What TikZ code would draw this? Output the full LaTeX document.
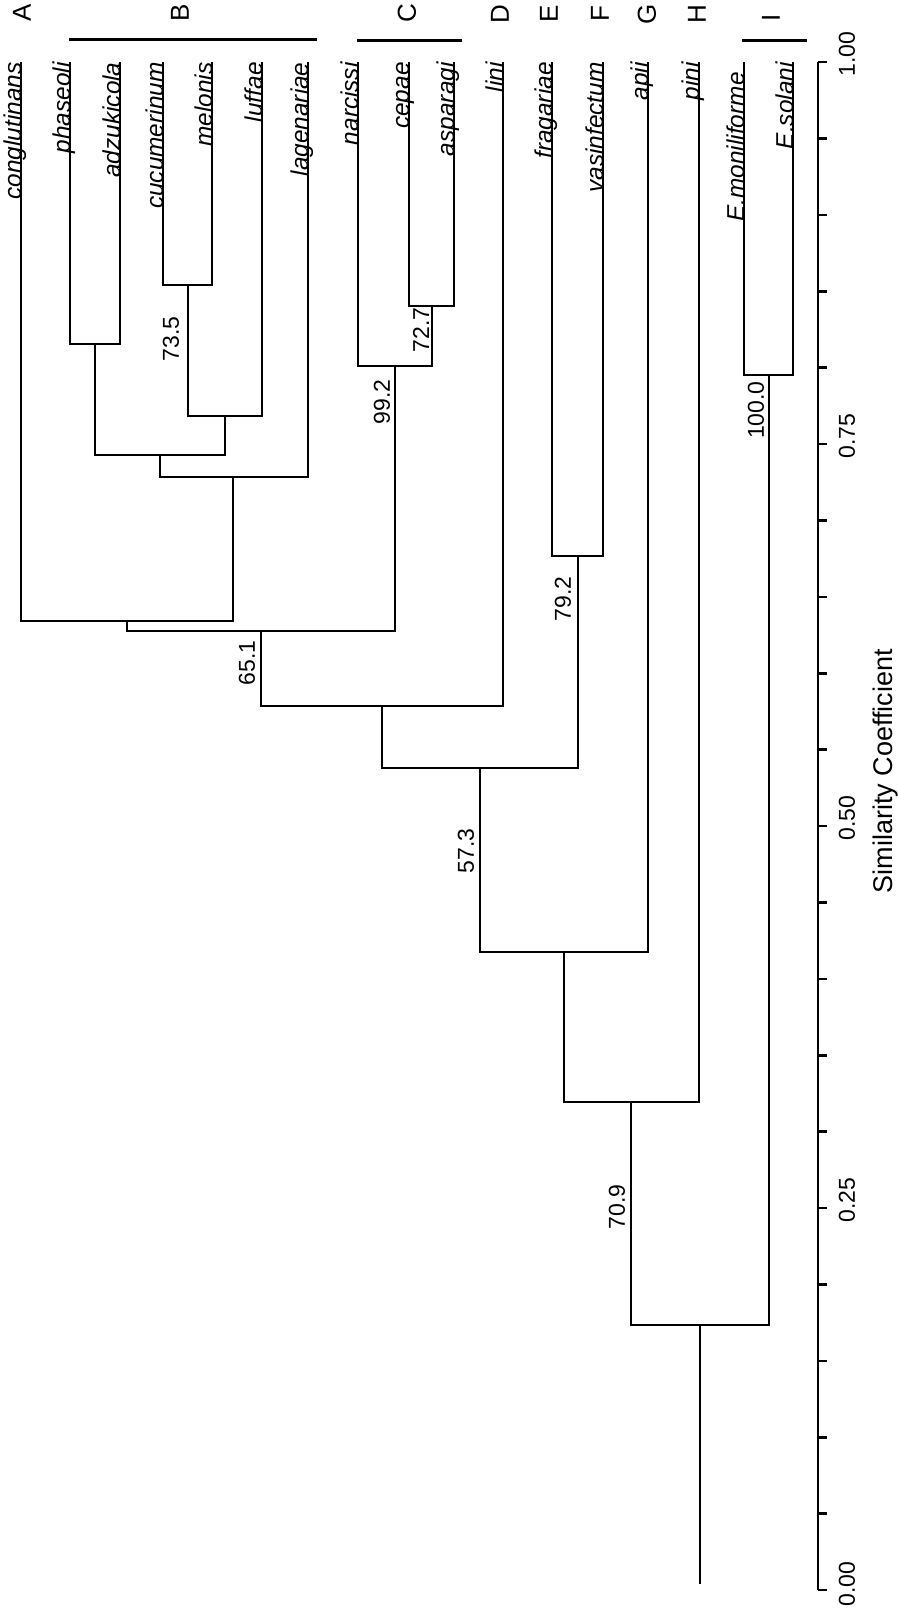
\documentclass[tikz,border=0pt]{standalone}
\usepackage{fontspec}
\setmainfont{Liberation Sans}
\tikzset{
  branch/.style={line width=1pt},
  leaflabel/.style={rotate=90,anchor=base east,inner sep=0pt,font=\fontsize{12.2}{14}\selectfont\itshape},
  simval/.style={rotate=90,inner sep=0pt,font=\fontsize{11.5}{13}\selectfont},
  grouplabel/.style={rotate=90,inner sep=0pt,font=\fontsize{13}{15}\selectfont},
  groupbar/.style={line width=1.5pt},
  axisline/.style={line width=1.3pt},
  ticklabel/.style={rotate=90,inner sep=0pt,font=\fontsize{11.5}{13}\selectfont}
}
\begin{document}
\begin{tikzpicture}[x=0.5pt,y=-0.5pt]
\useasboundingbox (0,0) rectangle (898,1614);

\coordinate (conglutinans) at (21,62);
\coordinate (phaseoli) at (70,62);
\coordinate (adzukicola) at (120,62);
\coordinate (cucumerinum) at (163,62);
\coordinate (melonis) at (212,62);
\coordinate (luffae) at (262,62);
\coordinate (lagenariae) at (308,62);
\coordinate (narcissi) at (358,62);
\coordinate (cepae) at (409,62);
\coordinate (asparagi) at (454,62);
\coordinate (lini) at (503,62);
\coordinate (fragariae) at (552,62);
\coordinate (vasinfectum) at (603,62);
\coordinate (apii) at (648,62);
\coordinate (pini) at (699,62);
\coordinate (moniliforme) at (744,62);
\coordinate (solani) at (793,62);

\node[leaflabel] (tconglutinans) at (conglutinans) {conglutinans};
\node[leaflabel] (tphaseoli) at (phaseoli) {phaseoli};
\node[leaflabel] (tadzukicola) at (adzukicola) {adzukicola};
\node[leaflabel] (tcucumerinum) at (cucumerinum) {cucumerinum};
\node[leaflabel] (tmelonis) at (melonis) {melonis};
\node[leaflabel] (tluffae) at (luffae) {luffae};
\node[leaflabel] (tlagenariae) at (lagenariae) {lagenariae};
\node[leaflabel] (tnarcissi) at (narcissi) {narcissi};
\node[leaflabel] (tcepae) at (cepae) {cepae};
\node[leaflabel] (tasparagi) at (asparagi) {asparagi};
\node[leaflabel] (tlini) at (lini) {lini};
\node[leaflabel] (tfragariae) at (fragariae) {fragariae};
\node[leaflabel] (tvasinfectum) at (vasinfectum) {vasinfectum};
\node[leaflabel] (tapii) at (apii) {apii};
\node[leaflabel] (tpini) at (pini) {pini};
\node[leaflabel] (tmoniliforme) at ([yshift=-5]moniliforme) {E.moniliforme};
\node[leaflabel] (tsolani) at (solani) {E.solani};

\coordinate (cucmel) at (188,285);
\coordinate (phasadz) at (95,344);
\coordinate (cucluf) at (225,416);
\coordinate (phascuc) at (160,455);
\coordinate (grpB) at (233,477);
\coordinate (grpAB) at (127,621);
\coordinate (cepasp) at (432,306);
\coordinate (grpC) at (395,366);
\coordinate (grpABC) at (261,631);
\coordinate (grpABCD) at (382,706);
\coordinate (grpEF) at (578,556);
\coordinate (grpAF) at (480,768);
\coordinate (grpAG) at (564,952);
\coordinate (grpAH) at (631,1102);
\coordinate (grpI) at (769,375);
\coordinate (grpAI) at (700,1325);
\coordinate (rootend) at (700,1584);

\draw[branch] (cucumerinum) |- (cucmel) -| (melonis);
\draw[branch] (phaseoli) |- (phasadz) -| (adzukicola);
\draw[branch] (cucmel) |- (cucluf) -| (luffae);
\draw[branch] (phasadz) |- (phascuc) -| (cucluf);
\draw[branch] (phascuc) |- (grpB) -| (lagenariae);
\draw[branch] (conglutinans) |- (grpAB) -| (grpB);
\draw[branch] (cepae) |- (cepasp) -| (asparagi);
\draw[branch] (narcissi) |- (grpC) -| (cepasp);
\draw[branch] (grpAB) |- (grpABC) -| (grpC);
\draw[branch] (grpABC) |- (grpABCD) -| (lini);
\draw[branch] (fragariae) |- (grpEF) -| (vasinfectum);
\draw[branch] (grpABCD) |- (grpAF) -| (grpEF);
\draw[branch] (grpAF) |- (grpAG) -| (apii);
\draw[branch] (grpAG) |- (grpAH) -| (pini);
\draw[branch] (moniliforme) |- (grpI) -| (solani);
\draw[branch] (grpAH) |- (grpAI) -| (grpI);
\draw[branch] (grpAI) -- (rootend);

\node[simval] (v735) at (171,339) {73.5};
\node[simval] (v727) at (421,330) {72.7};
\node[simval] (v992) at (382,402) {99.2};
\node[simval] (v651) at (247,663) {65.1};
\node[simval] (v792) at (563,599) {79.2};
\node[simval] (v573) at (466,851) {57.3};
\node[simval] (v709) at (617,1207) {70.9};
\node[simval] (v1000) at (756,410) {100.0};

\node[grouplabel] (gA) at (22,13) {A};
\node[grouplabel] (gB) at (180,13) {B};
\node[grouplabel] (gC) at (407,13) {C};
\node[grouplabel] (gD) at (500,14) {D};
\node[grouplabel] (gE) at (549,14) {E};
\node[grouplabel] (gF) at (600,14) {F};
\node[grouplabel] (gG) at (647,14) {G};
\node[grouplabel] (gH) at (697,14) {H};
\node[grouplabel] (gI) at (771,18) {I};

\coordinate (barBl) at (69,39);
\coordinate (barBr) at (317,39);
\coordinate (barCl) at (357,40);
\coordinate (barCr) at (462,40);
\coordinate (barIl) at (742,40);
\coordinate (barIr) at (807,40);
\draw[groupbar] (barBl) -- (barBr);
\draw[groupbar] (barCl) -- (barCr);
\draw[groupbar] (barIl) -- (barIr);

\coordinate (axtop) at (818,62);
\coordinate (axbot) at (818,1590);
\draw[axisline] (axtop) -- (axbot);
\foreach \i in {0,...,20}
  \draw[axisline] (818,62+76.4*\i) -- (827,62+76.4*\i);
\node[ticklabel] (s100) at (847,54) {1.00};
\node[ticklabel] (s075) at (847,436) {0.75};
\node[ticklabel] (s050) at (847,818) {0.50};
\node[ticklabel] (s025) at (847,1200) {0.25};
\node[ticklabel] (s000) at (847,1584) {0.00};
\node[rotate=90,inner sep=0pt,font=\fontsize{13.5}{16}\selectfont] (axtitle) at (886,771) {Similarity Coefficient};
\end{tikzpicture}
\end{document}
